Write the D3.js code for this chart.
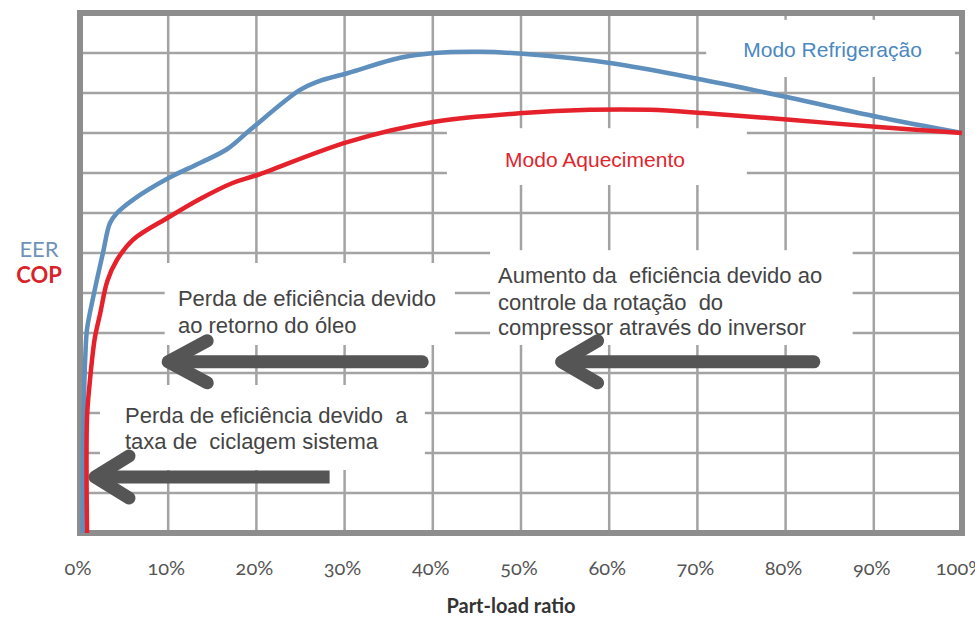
<!DOCTYPE html>
<html>
<head>
<meta charset="utf-8">
<script src="https://cdn.jsdelivr.net/npm/d3@7"></script>
<style>
  body { margin: 0; background: #fff; }
  svg { display: block; }
  .tick-label { font-family: Lato, "Open Sans", sans-serif; font-variant-numeric: oldstyle-nums; font-feature-settings: "onum" 1; font-size: 20px; fill: #555; }
  .note { font-family: "Liberation Sans", Arial, sans-serif; font-size: 22px; fill: #444; }
</style>
</head>
<body>
<svg id="chart" width="975" height="619"></svg>
<script>
const svg = d3.select('#chart')

const width = 975
const height = 619
const margin = {top: 13, right: 13, bottom: 86, left: 80}

// x axis ticks (part-load %)
const xTicks = [0, 10, 20, 30, 40, 50, 60, 70, 80, 90, 100]
const xTickLabels = ['0%', '10%', '20%', '30%', '40%', '50%', '60%', '70%', '80%', '90%', '100%']
// horizontal grid lines (no labels on this axis)
const yGrid = [1, 2, 3, 4, 5, 6, 7, 8, 9, 10, 11, 12]

// EER - Modo Refrigeração (blue)
const eerLoad  = [0.3, 0.35, 0.5, 0.6, 0.8, 1.5, 2.6, 3.4, 4.2, 6.0, 10.1, 13.6, 16.7, 19.3, 24.9, 26.9, 30.4, 36.3, 40.2, 45.4, 50.2, 60.1, 70.6, 80.5, 90.5, 100]
const eerValue = [0, 2.0, 3.8, 4.4, 5.1, 5.9, 7.0, 7.75, 8.0, 8.33, 8.88, 9.25, 9.6, 10.08, 11.07, 11.28, 11.5, 11.88, 12.0, 12.03, 11.98, 11.75, 11.33, 10.88, 10.4, 10.0]

// COP - Modo Aquecimento (red)
const copLoad  = [0.8, 0.8, 1.1, 1.4, 1.7, 2.3, 3.1, 4.2, 6.0, 10.1, 13.6, 17.3, 20.1, 30.4, 40.2, 50.2, 57.8, 64.6, 70.6, 80.5, 90.5, 100]
const copValue = [0, 2.9, 3.75, 4.4, 4.9, 5.5, 6.3, 6.83, 7.33, 7.9, 8.35, 8.75, 8.95, 9.78, 10.28, 10.5, 10.58, 10.58, 10.5, 10.33, 10.15, 10.0]

const seriesNames = ['Modo Refrigeração', 'Modo Aquecimento']
const axisNames = ['EER', 'COP']
const xTitle = 'Part-load ratio'

const noteOil = ['Perda de eficiência devido', 'ao retorno do óleo']
const noteCycling = ['Perda de eficiência devido  a', 'taxa de  ciclagem sistema']
const noteInverter = ['Aumento da  eficiência devido ao', 'controle da rotação  do', 'compressor através do inversor']

const xScale = d3.scaleLinear().domain([0, 100]).range([margin.left, width - 13])
const yScale = d3.scaleLinear().domain([0, 13]).range([height - margin.bottom, margin.top])

const gridColor = '#a3a3a3'
const blue = '#5f8fbd'
const red = '#e5222b'
const arrowColor = '#555'

// grid
const grid = svg.append('g')
grid.selectAll('.vgrid').data(xTicks.slice(1, -1)).enter().append('line')
    .attr('x1', d => xScale(d)).attr('x2', d => xScale(d))
    .attr('y1', yScale(13)).attr('y2', yScale(0))
    .attr('stroke', gridColor).attr('stroke-width', 2.5)
grid.selectAll('.hgrid').data(yGrid).enter().append('line')
    .attr('x1', xScale(0)).attr('x2', xScale(100))
    .attr('y1', d => yScale(d)).attr('y2', d => yScale(d))
    .attr('stroke', gridColor).attr('stroke-width', 2.5)

// frame
svg.append('rect')
    .attr('x', xScale(0)).attr('y', yScale(13))
    .attr('width', xScale(100) - xScale(0)).attr('height', yScale(0) - yScale(13))
    .attr('fill', 'none').attr('stroke', '#8d8d8d').attr('stroke-width', 6)

// curves
const line = d3.line()
    .x(d => xScale(d[0]))
    .y(d => yScale(d[1]))
    .curve(d3.curveCatmullRom.alpha(0.5))

svg.append('path')
    .datum(eerLoad.map((x, i) => [x, eerValue[i]]))
    .attr('d', line).attr('fill', 'none').attr('stroke', blue).attr('stroke-width', 4.5)
svg.append('path')
    .datum(copLoad.map((x, i) => [x, copValue[i]]))
    .attr('d', line).attr('fill', 'none').attr('stroke', red).attr('stroke-width', 4.5)

// white boxes behind the labels
function box(x0, x1, y0, y1) {
    svg.append('rect')
        .attr('x', xScale(x0)).attr('y', yScale(y0))
        .attr('width', xScale(x1) - xScale(x0)).attr('height', yScale(y1) - yScale(y0))
        .attr('fill', '#fff')
}
box(71.0, 99.2, 12.83, 11.4)
box(41.6, 75.6, 10.12, 8.7)
box(9.6, 42.5, 6.75, 4.7)
box(2.27, 39.1, 3.7, 1.575)
box(46.5, 87.6, 7.07, 4.7)

// series labels
svg.append('text')
    .attr('x', xScale(75.2)).attr('y', yScale(11.9))
    .attr('font-family', '"Liberation Sans", Arial, sans-serif').attr('font-size', 21)
    .attr('fill', '#4a88c2').text(seriesNames[0])
svg.append('text')
    .attr('x', xScale(48.2)).attr('y', yScale(9.15))
    .attr('font-family', '"Liberation Sans", Arial, sans-serif').attr('font-size', 21)
    .attr('fill', '#e0252d').text(seriesNames[1])

// annotation texts
function note(lines, x, baselines) {
    lines.forEach((t, i) => {
        svg.append('text').attr('class', 'note')
            .attr('x', xScale(x)).attr('y', yScale(baselines[i]))
            .style('white-space', 'pre')
            .text(t)
    })
}
note(noteOil, 11.1, [5.675, 5.0])
note(noteCycling, 5.1, [2.75, 2.1])
note(noteInverter, 47.4, [6.25, 5.575, 4.95])

// arrows
function arrow(fromX, toX, yVal, headDx, tailCap) {
    const y = yScale(yVal)
    const tip = xScale(toX)
    svg.append('line')
        .attr('x1', xScale(fromX)).attr('x2', tip + 6).attr('y1', y).attr('y2', y)
        .attr('stroke', arrowColor).attr('stroke-width', 13).attr('stroke-linecap', tailCap)
    svg.append('path')
        .attr('d', `M${tip + headDx},${y - 21} L${tip},${y} L${tip + headDx},${y + 21}`)
        .attr('fill', 'none').attr('stroke', arrowColor).attr('stroke-width', 13)
        .attr('stroke-linecap', 'round').attr('stroke-linejoin', 'round')
}
arrow(38.8, 10.0, 4.28, 39, 'round')
arrow(28.3, 1.7, 1.4, 34, 'butt')
arrow(83.2, 54.6, 4.28, 36, 'round')

// x tick labels
svg.selectAll('.tick-label').data(xTicks).enter().append('text')
    .attr('class', 'tick-label')
    .attr('x', d => xScale(d) - 2)
    .attr('y', 575)
    .attr('text-anchor', 'middle')
    .text((d, i) => xTickLabels[i])

// x title
svg.append('text')
    .attr('x', 511).attr('y', 613)
    .attr('text-anchor', 'middle')
    .attr('font-family', 'Lato, sans-serif').attr('font-weight', 'bold').attr('font-size', 20)
    .attr('fill', '#333').text(xTitle)

// EER / COP axis names
svg.append('text')
    .attr('x', 39).attr('y', 257).attr('text-anchor', 'middle')
    .attr('font-family', 'Lato, sans-serif').attr('font-size', 22)
    .attr('fill', '#6f93b8').text(axisNames[0])
svg.append('text')
    .attr('x', 39).attr('y', 283).attr('text-anchor', 'middle')
    .attr('font-family', 'Lato, sans-serif').attr('font-weight', 'bold').attr('font-size', 22)
    .attr('fill', '#d9232b').text(axisNames[1])
</script>
</body>
</html>
